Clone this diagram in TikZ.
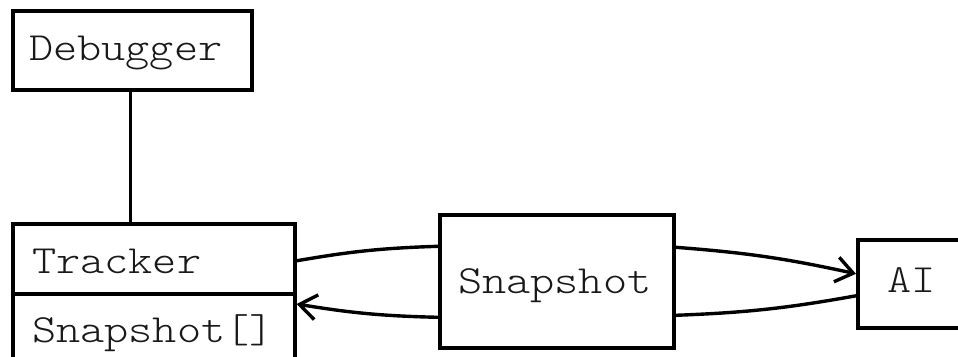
\documentclass[tikz,border=0pt]{standalone}
\usepackage{fontspec}
\setmonofont{lmmonolt10-regular.otf}[FakeStretch=1.15]
\usetikzlibrary{arrows.meta,calc}
\tikzset{
  box/.style={draw=black, line width=3.6pt, rectangle, inner sep=0pt, anchor=north west},
  lbl/.style={font=\ttfamily\fontsize{40}{48}\selectfont, inner sep=0pt, anchor=base west, text=black!90},
  conn/.style={draw=black, line width=3.4pt},
  arr/.style={conn, -{Straight Barb[length=17pt,width=25pt,line width=3.4pt]}}
}
\begin{document}
\begin{tikzpicture}[x=1pt,y=-1pt]
\useasboundingbox (0,0) rectangle (958,356);
% boxes
\node[box, minimum width=239pt, minimum height=79pt] (dbg) at (11,9) {};
\node[box, minimum width=282pt, minimum height=70pt] (trk) at (11,222) {};
\node[box, minimum width=282pt, minimum height=72pt] (trs) at (11,292) {};
\node[box, minimum width=234pt, minimum height=133pt] (snap) at (438,213) {};
\node[box, minimum width=120pt, minimum height=88pt] (ai) at (856,238) {};
% texts
\node[lbl] (tdbg) at (29,60) {Debugger};
\node[lbl] (ttrk) at (32,273) {Tracker};
\node[lbl] (ttrs) at (32,342) {Snapshot[]};
\node[lbl] (tsnap) at (458,293) {Snapshot};
\node[lbl] (tai) at (887,292) {AI};
% connectors
\draw[conn] ([xshift=-2pt]dbg.south) -- ([xshift=-2pt]dbg.south |- trk.north);
\draw[conn] ([yshift=-2pt]trk.east) to[bend left=4] ([yshift=35pt]snap.west);
\draw[arr] ([yshift=-36pt]snap.west) to[bend left=4] ([yshift=-12pt]trs.north east);
\draw[arr] ([yshift=34pt]snap.east) to[bend left=4] ([yshift=10pt]ai.west);
\draw[conn] ([yshift=-34pt]snap.east) to[bend right=4] ([yshift=-12pt]ai.west);
\end{tikzpicture}
\end{document}
